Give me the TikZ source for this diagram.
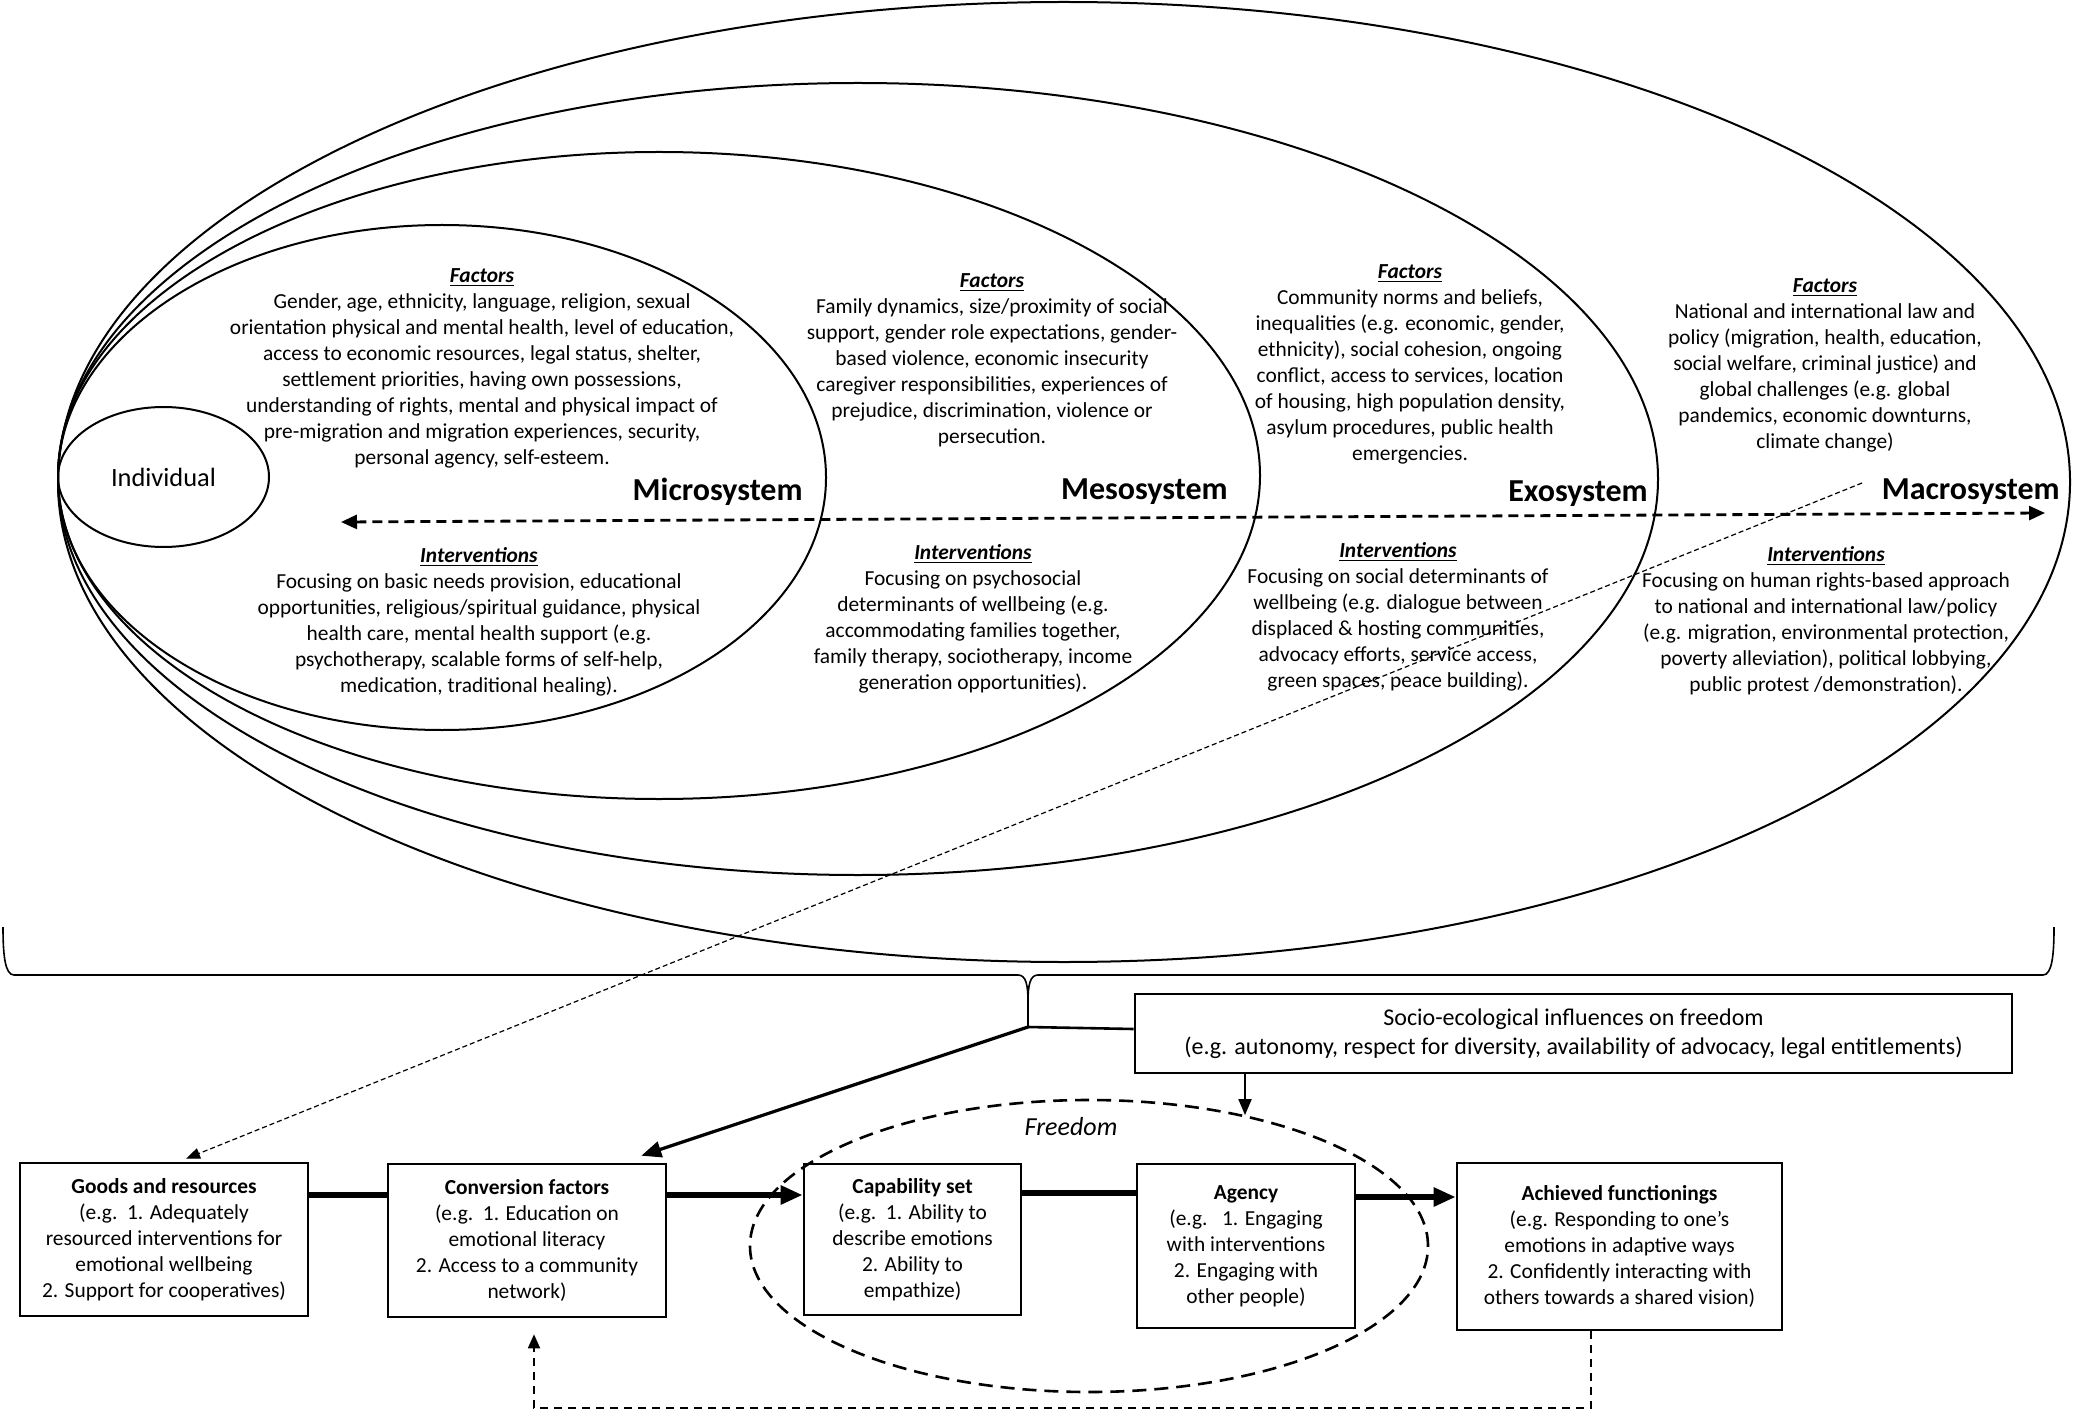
\documentclass[tikz,border=0pt]{standalone}
\usepackage{fontspec}
\setmainfont{Carlito}
\usetikzlibrary{shapes.geometric,arrows.meta,calc}
\newcommand\mybody{\fontsize{10.7pt}{13pt}\selectfont}
\newcommand\myhead[1]{\underline{\textbf{\textit{#1}}}}
\begin{document}
\begin{tikzpicture}[x=0.5pt,y=-0.5pt,
  ring/.style={draw, ellipse, inner sep=0pt, line width=1pt},
  txt/.style={align=center, font=\mybody, inner sep=0pt},
  sys/.style={font=\fontsize{16pt}{19pt}\selectfont\bfseries, inner sep=0pt, anchor=east},
  box/.style={draw, rectangle, line width=1.3pt, inner sep=0pt, align=center, font=\mybody},
  thickln/.style={line width=3.3pt},
  thickarr/.style={line width=3.3pt, -{Triangle[length=11pt,width=9pt]}},
  dblarr/.style={line width=1.4pt, dash pattern=on 5pt off 3pt, {Triangle[length=8pt,width=7pt]}-{Triangle[length=8pt,width=7pt]}},
  thindash/.style={line width=0.6pt, dash pattern=on 2.5pt off 1.5pt, -{Triangle[length=7pt,width=5.5pt]}},
  fbdash/.style={line width=0.9pt, dash pattern=on 4pt off 3pt, -{Triangle[length=7pt,width=6pt]}},
  bracestyle/.style={line width=0.8pt},
]
\fill[white] (0,0) rectangle (2075,1411);
\useasboundingbox (0,0) rectangle (2075,1411);

% ecological rings
\node[ring, minimum width=1006pt, minimum height=480pt] (macro) at (1064,482) {};
\node[ring, minimum width=800pt, minimum height=396pt] (exo) at (858,479) {};
\node[ring, minimum width=601pt, minimum height=323.5pt] (meso) at (659,475.5) {};
\node[ring, minimum width=384pt, minimum height=252.5pt] (micro) at (442,477.5) {};
\node[ring, minimum width=105.5pt, minimum height=70pt, font=\fontsize{13.2pt}{16pt}\selectfont] (indiv) at (163.5,477) {Individual};

% texts
\node[txt] (mif) at (482,368) {\myhead{Factors}\\
Gender, age, ethnicity, language, religion, sexual\\
orientation physical and mental health, level of education,\\
access to economic resources, legal status, shelter,\\
settlement priorities, having own possessions,\\
understanding of rights, mental and physical impact of\\
pre-migration and migration experiences, security,\\
personal agency, self-esteem.};
\node[txt] (mii) at (479,622) {\myhead{Interventions}\\
Focusing on basic needs provision, educational\\
opportunities, religious/spiritual guidance, physical\\
health care, mental health support (e.g.\\
psychotherapy, scalable forms of self-help,\\
medication, traditional healing).};

\node[txt] (mef) at (992,360) {\myhead{Factors}\\
Family dynamics, size/proximity of social\\
support, gender role expectations, gender-\\
based violence, economic insecurity\\
caregiver responsibilities, experiences of\\
prejudice, discrimination, violence or\\
persecution.};
\node[txt] (mei) at (973,619) {\myhead{Interventions}\\
Focusing on psychosocial\\
determinants of wellbeing (e.g.\\
accommodating families together,\\
family therapy, sociotherapy, income\\
generation opportunities).};

\node[txt] (exf) at (1410,364) {\myhead{Factors}\\
Community norms and beliefs,\\
inequalities (e.g. economic, gender,\\
ethnicity), social cohesion, ongoing\\
conflict, access to services, location\\
of housing, high population density,\\
asylum procedures, public health\\
emergencies.};
\node[txt] (exi) at (1398,617) {\myhead{Interventions}\\
Focusing on social determinants of\\
wellbeing (e.g. dialogue between\\
displaced \& hosting communities,\\
advocacy efforts, service access,\\
green spaces, peace building).};

\node[txt] (maf) at (1825,365) {\myhead{Factors}\\
National and international law and\\
policy (migration, health, education,\\
social welfare, criminal justice) and\\
global challenges (e.g. global\\
pandemics, economic downturns,\\
climate change)};
\node[txt] (mai) at (1826,621) {\myhead{Interventions}\\
Focusing on human rights-based approach\\
to national and international law/policy\\
(e.g. migration, environmental protection,\\
poverty alleviation), political lobbying,\\
public protest /demonstration).};

\node[sys] (microlbl) at (803,492) {Microsystem};
\node[sys] (mesolbl) at (1228,492) {Mesosystem};
\node[sys] (exolbl) at (1648,494) {Exosystem};
\node[sys] (macrolbl) at (2060,492) {Macrosystem};

% horizontal dashed double arrow
\coordinate (hl) at (341,522);
\coordinate (hr) at (2045,513);
\draw[dblarr] (hl) -- (hr);

% brace
\coordinate (tip) at (1028,1027);
\draw[bracestyle] (3,927) .. controls (3,955) and (5,975) .. (14,975) -- (1018,975)
  .. controls (1026,975) and (1028,985) .. (1028,1002) -- (tip);
\draw[bracestyle] (2054,927) .. controls (2054,955) and (2052,975) .. (2043,975) -- (1038,975)
  .. controls (1030,975) and (1028,985) .. (1028,1002);

% bottom boxes
\node[box, minimum width=144pt, minimum height=76.5pt] (goods) at (164,1239.5) {\textbf{Goods and resources}\\
(e.g.\ \ 1. Adequately\\ resourced interventions for\\ emotional wellbeing\\ 2. Support for cooperatives)};
\node[box, minimum width=139pt, minimum height=76.5pt] (conv) at (527,1240.5) {\textbf{Conversion factors}\\
(e.g.\ \ 1. Education on\\ emotional literacy\\ 2. Access to a community\\ network)};
\node[box, minimum width=108.5pt, minimum height=75.5pt] (cap) at (912.5,1239.5) {\textbf{Capability set}\\
(e.g.\ \ 1. Ability to\\ describe emotions\\ 2. Ability to\\ empathize)};
\node[box, minimum width=109pt, minimum height=82pt] (agency) at (1246,1246) {\textbf{Agency}\\
(e.g.\ \ \ 1. Engaging\\ with interventions\\ 2. Engaging with\\ other people)};
\node[box, minimum width=162.5pt, minimum height=83.5pt] (achieved) at (1619.5,1246.5) {\textbf{Achieved functionings}\\
(e.g. Responding to one’s\\ emotions in adaptive ways\\ 2. Confidently interacting with\\ others towards a shared vision)};
\node[box, minimum width=438.5pt, minimum height=39.5pt, font=\fontsize{12pt}{14.5pt}\selectfont] (socio) at (1573.5,1033.5) {Socio-ecological influences on freedom\\
(e.g. autonomy, respect for diversity, availability of advocacy, legal entitlements)};

% freedom ellipse
\node[draw, ellipse, inner sep=0pt, line width=1.3pt, dash pattern=on 7pt off 4pt, minimum width=339pt, minimum height=146pt] (freedom) at (1089,1246) {};
\node[font=\fontsize{13pt}{15pt}\selectfont\itshape, inner sep=0pt] (freedomlbl) at (1071,1127) {Freedom};

% connectors between boxes
\draw[thickln] ($(goods.east)+(0,-44.5)$) -- ($(conv.west)+(0,-45.5)$);
\draw[thickarr] ($(conv.east)+(0,-45.5)$) -- ($(cap.west)+(0,-44.5)$);
\draw[thickln] ($(cap.east)+(0,-46.5)$) -- ($(agency.west)+(0,-53)$);
\draw[thickarr] ($(agency.east)+(0,-49)$) -- ($(achieved.west)+(0,-49.5)$);

% brace links
\draw[line width=1.6pt, -{Triangle[length=10pt,width=8pt]}] (tip) -- ($(conv.north east)+(-26,-7)$);
\draw[line width=1.3pt] (tip) -- ($(socio.west)+(0,-4.5)$);
\draw[line width=1pt, -{Triangle[length=8pt,width=6.5pt]}] (socio.south -| freedom.40.9) -- (freedom.40.9);

% thin dashed from macrosystem to goods
\coordinate (mstart) at (1862,483);
\draw[thindash] (mstart) -- ($(goods.north)+(22,-3)$);

% feedback loop
\draw[fbdash] ($(achieved.south)+(-28.5,0)$) -- ++(0,77) -| ($(conv.south)+(7,16)$);
\end{tikzpicture}
\end{document}
